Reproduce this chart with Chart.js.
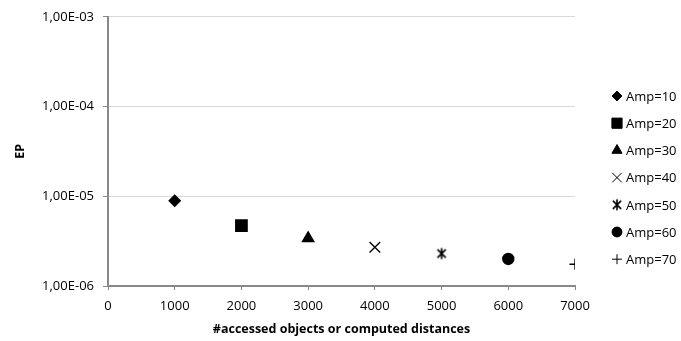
<!DOCTYPE html>
<html>
<head>
<meta charset="utf-8">
<script src="https://cdn.jsdelivr.net/npm/chart.js@4.4.1/dist/chart.umd.min.js"></script>
<style>
    html, body { margin: 0; padding: 0; background: #fff; }
    #wrap { width: 681px; height: 341px; }
</style>
</head>
<body>
<div id="wrap"><canvas id="epChart"></canvas></div>
<script>
// data
const seriesLabels = ["Amp=10", "Amp=20", "Amp=30", "Amp=40", "Amp=50", "Amp=60", "Amp=70"];
const accessedObjects = [1000, 2000, 3000, 4000, 5000, 6000, 7000];
const epValues = [8.9e-6, 4.7e-6, 3.4e-6, 2.7e-6, 2.3e-6, 2.0e-6, 1.75e-6];
const yTickValues = [1e-6, 1e-5, 1e-4, 1e-3];

// Excel-like asterisk marker (X with a vertical bar)
function makeStar(size) {
    const c = document.createElement("canvas");
    c.width = size;
    c.height = size;
    const g = c.getContext("2d");
    const m = size / 2, r = size / 2 - 1.5;
    g.strokeStyle = "#000";
    g.lineWidth = 1.6;
    g.beginPath();
    g.moveTo(m - r * 0.75, m - r * 0.75); g.lineTo(m + r * 0.75, m + r * 0.75);
    g.moveTo(m + r * 0.75, m - r * 0.75); g.lineTo(m - r * 0.75, m + r * 0.75);
    g.moveTo(m, m - r); g.lineTo(m, m + r);
    g.stroke();
    return c;
}

const markers = [
    { style: "rectRot", radius: 5.5 },
    { style: "rect", radius: 8 },
    { style: "triangle", radius: 6.5 },
    { style: "crossRot", radius: 7.5 },
    { style: makeStar(14), radius: 7 },
    { style: "circle", radius: 5.5 },
    { style: "cross", radius: 5.5 }
];

function excelSci(v) {
    const [m, e] = v.toExponential(2).split("e");
    const n = parseInt(e, 10);
    const exp = (n < 0 ? "-" : "+") + String(Math.abs(n)).padStart(2, "0");
    return m.replace(".", ",") + "E" + exp;
}

const datasets = seriesLabels.map(function (label, i) {
    return {
        label: label,
        data: [{ x: accessedObjects[i], y: epValues[i] }],
        pointStyle: markers[i].style,
        pointRadius: markers[i].radius,
        pointHoverRadius: markers[i].radius,
        backgroundColor: "#000",
        borderColor: "#000",
        borderWidth: 1.4,
        showLine: false
    };
});

// legend drawn on the right, same markers as the datasets
const sideLegend = {
    id: "sideLegend",
    afterDraw: function (chart) {
        const ctx = chart.ctx;
        ctx.save();
        ctx.font = "13px 'Open Sans'";
        ctx.textBaseline = "middle";
        chart.data.datasets.forEach(function (ds, i) {
            const y = 96 + i * 27.2;
            ctx.fillStyle = "#000";
            ctx.strokeStyle = "#000";
            Chart.helpers.drawPoint(ctx, {
                pointStyle: ds.pointStyle,
                radius: ds.pointRadius * 0.9,
                borderWidth: 1.4
            }, 617, y);
            ctx.fillStyle = "#000";
            ctx.fillText(ds.label, 626, y + 1);
        });
        ctx.restore();
    }
};

new Chart(document.getElementById("epChart"), {
    type: "scatter",
    data: { datasets: datasets },
    plugins: [sideLegend],
    options: {
        responsive: true,
        maintainAspectRatio: false,
        animation: false,
        events: [],
        layout: { padding: { left: 0, top: 14, right: 106, bottom: 0 } },
        plugins: {
            legend: { display: false },
            tooltip: { enabled: false }
        },
        scales: {
            x: {
                type: "linear",
                min: 0,
                max: 7000,
                afterFit: function (scale) { scale.height = 55; },
                ticks: {
                    stepSize: 1000,
                    color: "#000",
                    padding: 8,
                    font: { family: "'Open Sans'", size: 13 },
                    callback: function (v) { return String(v); }
                },
                grid: {
                    drawOnChartArea: false,
                    drawTicks: true,
                    tickLength: 4,
                    tickColor: "#888",
                    tickWidth: 1
                },
                border: { color: "#888", width: 2 },
                title: {
                    display: true,
                    text: "#accessed objects or computed distances",
                    color: "#000",
                    font: { family: "'Open Sans'", size: 12.5, weight: "bold" },
                    padding: { top: 0, bottom: 4 }
                }
            },
            y: {
                type: "logarithmic",
                min: 1e-6,
                max: 1e-3,
                afterFit: function (scale) { scale.width = 108; },
                afterBuildTicks: function (scale) {
                    scale.ticks = yTickValues.map(function (v) { return { value: v, major: true }; });
                },
                ticks: {
                    color: "#000",
                    padding: 9,
                    font: { family: "'Open Sans'", size: 13 },
                    callback: function (v) { return excelSci(v); }
                },
                grid: {
                    color: "#d9d9d9",
                    lineWidth: 1,
                    drawTicks: true,
                    tickLength: 5,
                    tickColor: "#888"
                },
                border: { color: "#888", width: 2 },
                title: {
                    display: true,
                    text: "EP",
                    color: "#000",
                    font: { family: "'Open Sans'", size: 12.5, weight: "bold" },
                    padding: { top: 13, bottom: 0 }
                }
            }
        }
    }
});
</script>
</body>
</html>
